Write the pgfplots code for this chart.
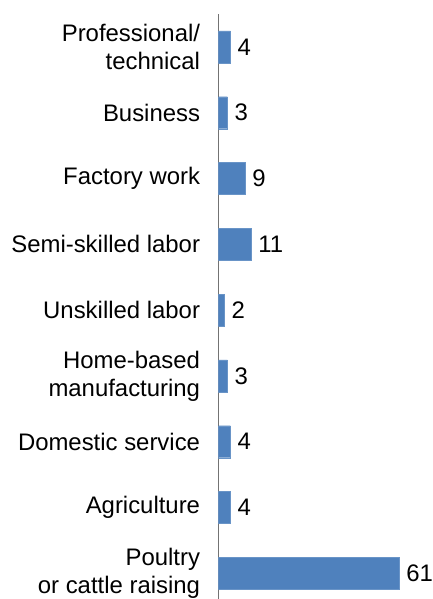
\documentclass[border=0pt]{standalone}
\usepackage{pgfplots}
\pgfplotsset{compat=1.18}
\usepackage{fontspec}
\setmainfont{Liberation Sans}
\definecolor{barblue}{HTML}{4F81BD}
\newcommand{\lblfont}{\fontsize{24}{28}\selectfont}
\begin{document}
\begin{tikzpicture}
\begin{axis}[
  at={(0,0)}, anchor=north west,
  scale only axis, width=207.2bp, height=592.2bp,
  xbar, xmin=0, xmax=70, ymin=0.5, ymax=9.5,
  bar width=32bp,
  axis x line=none,
  axis y line*=left,
  y axis line style={black!55, line width=0.8pt},
  ytick={1,...,9},
  ytick style={draw=none},
  yticklabels={{Poultry\\or cattle raising}, Agriculture, Domestic service, {Home-based\\manufacturing}, Unskilled labor, Semi-skilled labor, Factory work, Business, {Professional/\\technical}},
  yticklabel style={align=right, font=\lblfont, inner sep=0pt, xshift=-14bp, text=black},
  /pgf/number format/assume math mode=true,
  nodes near coords,
  every node near coord/.append style={font=\lblfont, anchor=west, inner sep=0pt, xshift=7bp, text=black},
]
\addplot[fill=barblue, draw=barblue!85!white] coordinates {
 (61,1) (4,2) (4,3) (3,4) (2,5) (11,6) (9,7) (3,8) (4,9)
};
\end{axis}
\pgfresetboundingbox
\path[use as bounding box] (-218.5bp,14bp) rectangle (214.5bp,-585bp);
\end{tikzpicture}
\end{document}
